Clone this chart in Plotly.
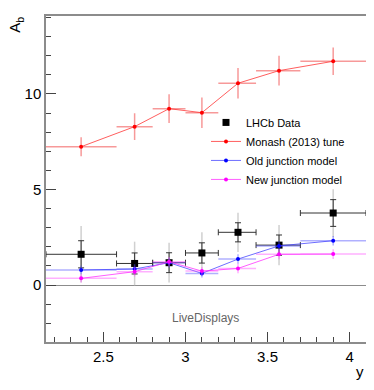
import numpy as np
import plotly.graph_objects as go

# rapidity bins (edges) and bin centres
y_edges = [2.15, 2.58, 2.80, 3.00, 3.20, 3.43, 3.70, 4.10]
y_centres = [2.364, 2.69, 2.90, 3.10, 3.32, 3.57, 3.90]

# LHCb measurement: value, stat error, total error
lhcb = [1.61, 1.13, 1.17, 1.68, 2.76, 2.09, 3.77]
lhcb_stat = [0.71, 0.55, 0.52, 0.53, 0.50, 0.53, 0.70]
lhcb_tot = [1.48, 1.14, 1.04, 1.08, 1.03, 1.05, 1.25]

# Pythia predictions
monash = [7.24, 8.29, 9.23, 9.02, 10.56, 11.22, 11.71]
monash_err = [0.50, 0.70, 0.75, 0.80, 0.80, 0.78, 0.72]
old_junc = [0.79, 0.84, 1.17, 0.61, 1.36, 2.05, 2.32]
old_err = [0.22, 0.25, 0.25, 0.22, 0.25, 0.25, 0.25]
new_junc = [0.35, 0.70, 1.22, 0.73, 0.87, 1.61, 1.62]
new_err = [0.22, 0.25, 0.25, 0.22, 0.25, 0.26, 0.25]

xc = np.array(y_centres)
lo = xc - np.array(y_edges[:-1])
hi = np.array(y_edges[1:]) - xc

fig = go.Figure()

# total uncertainty of the data (light grey, no caps)
fig.add_trace(go.Scatter(
    x=xc, y=lhcb, mode="markers", marker=dict(size=1, color="rgba(0,0,0,0)"),
    error_y=dict(type="data", array=lhcb_tot, color="#d0d0d0", thickness=1.5, width=0),
    showlegend=False, hoverinfo="skip"))


def mc_trace(vals, errs, color, line_color, err_color, name):
    return go.Scatter(
        x=xc, y=vals, mode="lines+markers", name=name,
        line=dict(color=line_color, width=1),
        marker=dict(size=4, color=color),
        error_x=dict(type="data", symmetric=False, array=hi, arrayminus=lo,
                     color=err_color, thickness=1.5, width=0),
        error_y=dict(type="data", array=errs, color=err_color, thickness=1.5, width=0))


fig.add_trace(go.Scatter(
    x=xc, y=lhcb, mode="markers", name="LHCb Data",
    marker=dict(symbol="square", size=7, color="black"),
    error_x=dict(type="data", symmetric=False, array=hi, arrayminus=lo,
                 color="#333333", thickness=1, width=3),
    error_y=dict(type="data", array=lhcb_stat, color="#333333", thickness=1, width=3)))
fig.add_trace(mc_trace(monash, monash_err, "red", "rgba(255,40,40,0.75)",
                       "rgba(240,70,70,0.55)", "Monash (2013) tune"))
fig.add_trace(mc_trace(old_junc, old_err, "blue", "rgba(60,60,255,0.75)",
                       "rgba(80,80,255,0.45)", "Old junction model"))
fig.add_trace(mc_trace(new_junc, new_err, "magenta", "rgba(255,40,255,0.75)",
                       "rgba(255,80,255,0.45)", "New junction model"))

axis_common = dict(showline=True, linecolor="#8c8c8c", linewidth=1.5, mirror=True,
                   showgrid=False, ticks="inside", ticklen=10, tickcolor="#444",
                   automargin=False,
                   tickfont=dict(family="Liberation Sans, Arial", size=15, color="black"))

fig.update_xaxes(range=[2.15, 4.1], dtick=0.5, tick0=2.5, zeroline=False,
                 minor=dict(ticks="inside", ticklen=5, dtick=0.1, tick0=2.2, tickcolor="#444"),
                 **axis_common)
fig.update_yaxes(range=[-2.98, 14.08], dtick=5, tick0=0,
                 zeroline=True, zerolinecolor="#8c8c8c", zerolinewidth=1,
                 minor=dict(ticks="inside", ticklen=5, dtick=1, tick0=0, tickcolor="#444"),
                 **axis_common)

# page body adds an 8px margin, so the figure is drawn 8px smaller
fig.update_layout(
    width=366, height=382,
    margin=dict(l=38, r=8, t=8, b=48, autoexpand=False),
    plot_bgcolor="white", paper_bgcolor="white",
    font=dict(family="Liberation Sans, Arial", color="black"),
    legend=dict(x=0.50, y=0.718, xanchor="left", yanchor="top",
                bgcolor="rgba(0,0,0,0)", font=dict(size=11),
                tracegroupgap=0, itemwidth=30),
    annotations=[
        dict(text="A<sub>b</sub>", xref="paper", yref="paper", x=-0.095, y=0.972,
             xanchor="center", yanchor="middle", textangle=-90, showarrow=False,
             font=dict(size=15)),
        dict(text="y", xref="paper", yref="paper", x=0.98, y=-0.092,
             xanchor="center", yanchor="middle", showarrow=False, font=dict(size=15)),
        dict(text="LiveDisplays", xref="x", yref="y", x=3.12, y=-1.73,
             xanchor="center", yanchor="middle", showarrow=False,
             font=dict(size=12, color="#666666")),
    ],
)

fig.write_html("out.html")
